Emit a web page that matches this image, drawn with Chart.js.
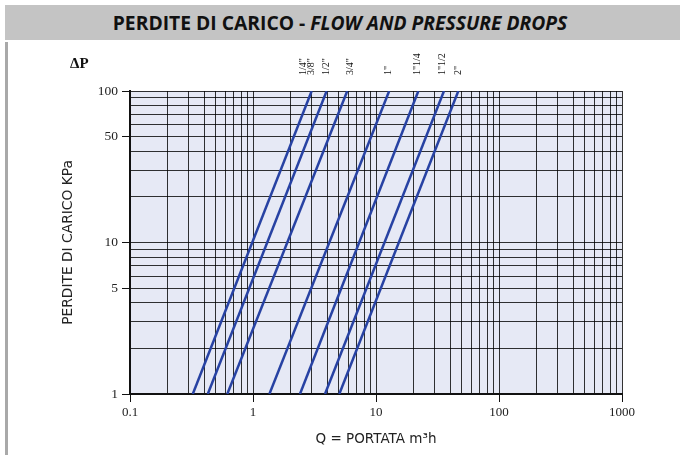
<!DOCTYPE html>
<html>
<head>
<meta charset="utf-8">
<script src="https://cdn.jsdelivr.net/npm/chart.js@4"></script>
<style>
  html, body { margin: 0; padding: 0; background: #fff; }
  body { width: 680px; height: 455px; position: relative; overflow: hidden; }
  #bar { position: absolute; left: 5px; top: 5px; width: 675px; height: 35px; background: #c4c4c4; }
  #title { position: absolute; left: 0; top: 5px; width: 680px; text-align: center; line-height: 35px;
           font-family: 'Open Sans', sans-serif; font-weight: 700; font-size: 19.3px; letter-spacing: 0; color: #111; }
  #title i { font-style: italic; }
  #side { position: absolute; left: 5px; top: 42px; width: 3px; height: 413px; background: #a9a9a9; }
  #wrap { position: absolute; left: 0; top: 0; width: 680px; height: 455px; }
</style>
</head>
<body>
<div id="bar"></div>
<div id="title">PERDITE DI CARICO - <i>FLOW AND PRESSURE DROPS</i></div>
<div id="side"></div>
<div id="wrap"><canvas id="c" width="680" height="455"></canvas></div>
<script>
// ---------- data ----------
// flow Q (m3/h) where each pipe curve crosses 1 kPa and 100 kPa
const pipeSizes = ['3/8"', '1/2"', '3/4"', '1"', '1"1/4', '1"1/2', '2"'];
const qAt1kPa   = [0.324, 0.429, 0.618, 1.36, 2.41, 3.85, 5.03];
const qAt100kPa = [3.00, 3.97, 5.84, 12.8, 22.1, 35.7, 46.7];

// size labels printed above the grid, with the Q they stand over
const sizeLabels = ['1/4"', '3/8"', '1/2"', '3/4"', '1"', '1"1/4', '1"1/2', '2"'];
const sizeLabelQ = [2.55, 2.96, 3.92, 6.15, 12.5, 21.5, 34.4, 46.4];

// axis ticks (log grid) and which ones carry a label
const xLabelled = [0.1, 1, 10, 100, 1000];
const yLabelled = [1, 5, 10, 50, 100];
const logGrid = (from, to) => {
    const out = [];
    for (let d = from; d < to; d *= 10) for (let m = 1; m < 10; m++) out.push(+(m * d).toPrecision(3));
    out.push(to);
    return out;
};
const xTicks = logGrid(0.1, 1000);
const yTicks = logGrid(1, 100);

const BLUE = '#2742a3';
const GRID = 'rgba(0,0,0,0.8)';
const SERIF = "'Liberation Serif', 'Times New Roman', serif";
const SANS = "'DejaVu Sans', sans-serif";

const isLab = (list, v) => list.some(l => Math.abs(l - v) < 1e-9);

const plotBg = {
    id: 'plotBg',
    beforeDraw(chart) {
        const { ctx, chartArea: a } = chart;
        ctx.save();
        ctx.fillStyle = '#e6e9f5';
        ctx.fillRect(a.left, a.top, a.right - a.left, a.bottom - a.top);
        ctx.restore();
    },
    afterDraw(chart) {
        const { ctx } = chart;
        const xs = chart.scales.x;
        ctx.save();
        // delta P header
        ctx.fillStyle = '#111';
        ctx.font = 'bold 15px ' + SERIF;
        ctx.textBaseline = 'alphabetic';
        ctx.fillText('\u0394P', 70, 68);
        // pipe size labels, vertical
        ctx.font = '10px ' + SERIF;
        ctx.textBaseline = 'middle';
        ctx.textAlign = 'left';
        sizeLabels.forEach((t, i) => {
            const x = xs.getPixelForValue(sizeLabelQ[i]);
            ctx.save();
            ctx.translate(x, 75);
            ctx.rotate(-Math.PI / 2);
            ctx.fillText(t, 0, 0);
            ctx.restore();
        });
        ctx.restore();
    }
};

new Chart(document.getElementById('c'), {
    type: 'line',
    data: {
        datasets: pipeSizes.map((name, i) => ({
            label: name,
            data: [{ x: qAt1kPa[i], y: 1 }, { x: qAt100kPa[i], y: 100 }],
            borderColor: BLUE,
            borderWidth: 2.5,
            pointRadius: 0,
            tension: 0,
        })),
    },
    options: {
        responsive: false,
        animation: false,
        layout: { padding: { left: 0, top: 91, right: 58, bottom: 0 } },
        plugins: { legend: { display: false }, tooltip: { enabled: false }, title: { display: false } },
        scales: {
            x: {
                type: 'logarithmic',
                min: 0.1, max: 1000,
                afterBuildTicks: s => { s.ticks = xTicks.map(v => ({ value: v })); },
                afterFit: s => { s.height = 61; },
                ticks: {
                    autoSkip: false, maxRotation: 0, padding: 3, color: '#222',
                    font: { family: SERIF, size: 13 },
                    callback: v => isLab(xLabelled, v) ? String(v) : '',
                },
                grid: {
                    color: GRID, lineWidth: 1, tickLength: 8,
                    tickColor: c => (c.tick && isLab(xLabelled, c.tick.value)) ? '#111' : 'rgba(0,0,0,0)',
                },
                border: { color: '#111', width: 2 },
                title: {
                    display: true, text: 'Q = PORTATA m\u00b3h', color: '#222',
                    font: { family: SANS, size: 13.5 }, padding: { top: 0, bottom: 7 },
                },
            },
            y: {
                type: 'logarithmic',
                min: 1, max: 100,
                afterBuildTicks: s => { s.ticks = yTicks.map(v => ({ value: v })); },
                afterFit: s => { s.width = 130; },
                ticks: {
                    autoSkip: false, padding: 4, color: '#222',
                    font: { family: SERIF, size: 13.5 },
                    callback: v => isLab(yLabelled, v) ? String(v) : '',
                },
                grid: {
                    color: GRID, lineWidth: 1, tickLength: 8,
                    tickColor: c => (c.tick && isLab(yLabelled, c.tick.value)) ? '#111' : 'rgba(0,0,0,0)',
                },
                border: { color: '#111', width: 2 },
                title: {
                    display: true, text: 'PERDITE DI CARICO KPa', color: '#222',
                    font: { family: SANS, size: 13.8 }, padding: { top: 60, bottom: 0 },
                },
            },
        },
    },
    plugins: [plotBg],
});
</script>
</body>
</html>
